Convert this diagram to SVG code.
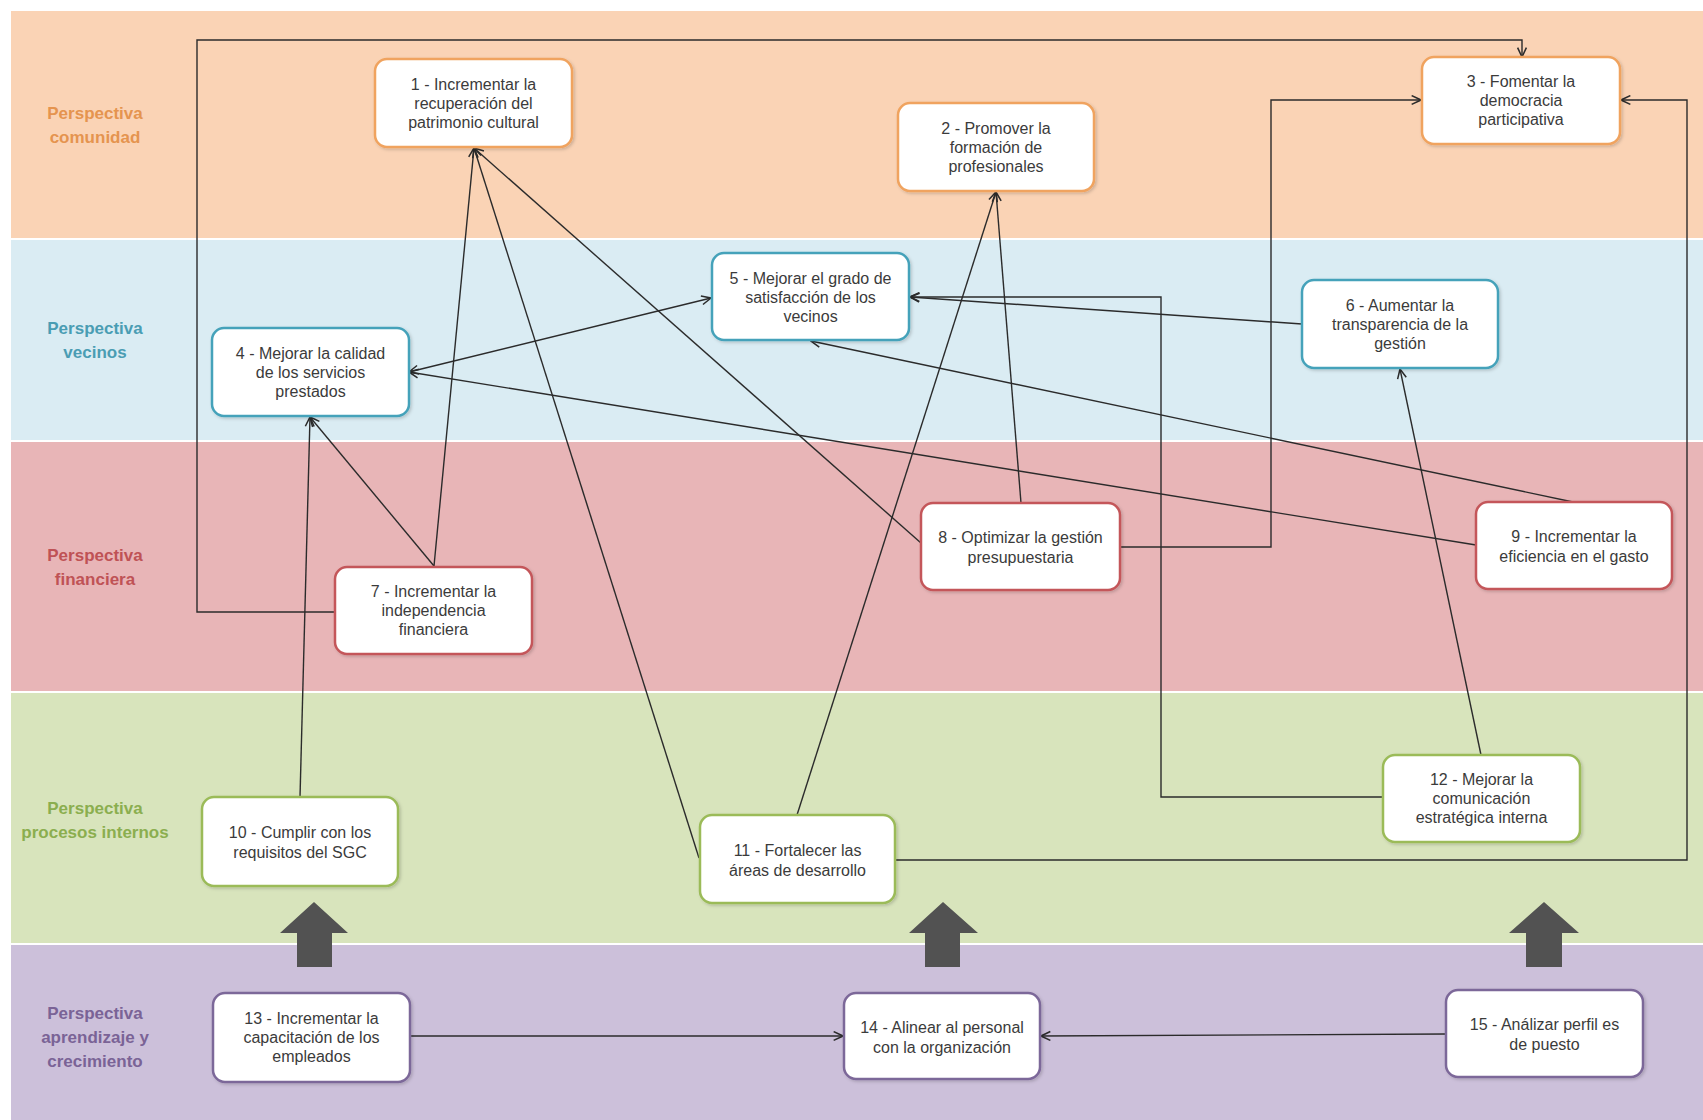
<svg xmlns="http://www.w3.org/2000/svg" width="1703" height="1120" viewBox="0 0 1703 1120">
<defs>
<marker id="ah" viewBox="0 0 10 10" refX="9.5" refY="5" markerWidth="11" markerHeight="11" markerUnits="userSpaceOnUse" orient="auto-start-reverse">
<path d="M1,1 L9.5,5 L1,9" fill="none" stroke="#2b2b2b" stroke-width="1.4"/>
</marker>
<filter id="sh" x="-10%" y="-10%" width="130%" height="130%">
<feDropShadow dx="1.5" dy="1.5" stdDeviation="1.5" flood-color="#000" flood-opacity="0.18"/>
</filter>
</defs>
<style>
.lbl{font-family:"Liberation Sans",Arial,sans-serif;font-weight:bold;font-size:17px;text-anchor:middle}
.node rect{fill:#fff;stroke-width:2.5;filter:url(#sh)}
.node text{font-family:"Liberation Sans",Arial,sans-serif;font-size:16px;fill:#3b3b3b;text-anchor:middle}
.o rect{stroke:#F0A35E}
.b rect{stroke:#45A2BA}
.r rect{stroke:#C4575A}
.g rect{stroke:#9BBB59}
.p rect{stroke:#7C6799}
.conn path{fill:none;stroke:#2b2b2b;stroke-width:1.4}
.big{fill:#525252}
</style>
<rect width="1703" height="1120" fill="#fff"/>
<g id="bands">
<rect x="11" y="11" width="1692" height="227" fill="#FAD3B5"/>
<rect x="11" y="240" width="1692" height="200" fill="#DAECF3"/>
<rect x="11" y="442" width="1692" height="249" fill="#E8B5B7"/>
<rect x="11" y="693" width="1692" height="250" fill="#D8E4BC"/>
<rect x="11" y="945" width="1692" height="175" fill="#CCC0DA"/>
</g>
<g id="labels">
<text class="lbl" fill="#E5944F" x="95" y="119">Perspectiva</text>
<text class="lbl" fill="#E5944F" x="95" y="143">comunidad</text>
<text class="lbl" fill="#4A9DB3" x="95" y="334">Perspectiva</text>
<text class="lbl" fill="#4A9DB3" x="95" y="358">vecinos</text>
<text class="lbl" fill="#BF5255" x="95" y="561">Perspectiva</text>
<text class="lbl" fill="#BF5255" x="95" y="585">financiera</text>
<text class="lbl" fill="#8BAE4F" x="95" y="814">Perspectiva</text>
<text class="lbl" fill="#8BAE4F" x="95" y="838">procesos internos</text>
<text class="lbl" fill="#7A6396" x="95" y="1019">Perspectiva</text>
<text class="lbl" fill="#7A6396" x="95" y="1043">aprendizaje y</text>
<text class="lbl" fill="#7A6396" x="95" y="1067">crecimiento</text>
</g>
<g id="block-arrows">
<polygon class="big" points="314,902 348,933 332,933 332,967 297,967 297,933 280,933"/>
<polygon class="big" points="943,902 978,933 960,933 960,967 925,967 925,933 909,933"/>
<polygon class="big" points="1544,902 1579,933 1562,933 1562,967 1526,967 1526,933 1509,933"/>
</g>
<g id="connectors" class="conn">
<path d="M335,612 H197 V40 H1522 V57" marker-end="url(#ah)"/>
<path d="M434,566 L474,148" marker-end="url(#ah)"/>
<path d="M434,566 L310,417" marker-end="url(#ah)"/>
<path d="M300,797 L310,417" marker-end="url(#ah)"/>
<path d="M699,858 L474,148" marker-end="url(#ah)"/>
<path d="M797,815 L996,192" marker-end="url(#ah)"/>
<path d="M1021,503 L996,192" marker-end="url(#ah)"/>
<path d="M921,543 L474,148" marker-end="url(#ah)"/>
<path d="M1120,547 H1271 V100 H1421" marker-end="url(#ah)"/>
<path d="M409,372 L711,298" marker-start="url(#ah)" marker-end="url(#ah)"/>
<path d="M1302,324 L910,297" marker-end="url(#ah)"/>
<path d="M1383,797 H1161 V297 H910" marker-end="url(#ah)"/>
<path d="M1481,755 L1400,369" marker-end="url(#ah)"/>
<path d="M1573,502 L811,341" marker-end="url(#ah)"/>
<path d="M1476,545 L409,372" marker-end="url(#ah)"/>
<path d="M895,860 H1687 V100 H1621" marker-end="url(#ah)"/>
<path d="M410,1036 L843,1036" marker-end="url(#ah)"/>
<path d="M1446,1034 L1041,1036" marker-end="url(#ah)"/>
</g>
<g id="n1" class="node o"><rect x="375" y="59" width="197" height="88" rx="12"/><text x="473.5" y="90">1 - Incrementar la</text><text x="473.5" y="109">recuperación del</text><text x="473.5" y="128">patrimonio cultural</text></g>
<g id="n2" class="node o"><rect x="898" y="103" width="196" height="88" rx="12"/><text x="996" y="134">2 - Promover la</text><text x="996" y="153">formación de</text><text x="996" y="172">profesionales</text></g>
<g id="n3" class="node o"><rect x="1422" y="57" width="198" height="87" rx="12"/><text x="1521" y="87">3 - Fomentar la</text><text x="1521" y="106">democracia</text><text x="1521" y="125">participativa</text></g>
<g id="n4" class="node b"><rect x="212" y="328" width="197" height="88" rx="12"/><text x="310.5" y="359">4 - Mejorar la calidad</text><text x="310.5" y="378">de los servicios</text><text x="310.5" y="397">prestados</text></g>
<g id="n5" class="node b"><rect x="712" y="253" width="197" height="87" rx="12"/><text x="810.5" y="284">5 - Mejorar el grado de</text><text x="810.5" y="303">satisfacción de los</text><text x="810.5" y="322">vecinos</text></g>
<g id="n6" class="node b"><rect x="1302" y="280" width="196" height="88" rx="12"/><text x="1400" y="311">6 - Aumentar la</text><text x="1400" y="330">transparencia de la</text><text x="1400" y="349">gestión</text></g>
<g id="n7" class="node r"><rect x="335" y="567" width="197" height="87" rx="12"/><text x="433.5" y="597">7 - Incrementar la</text><text x="433.5" y="616">independencia</text><text x="433.5" y="635">financiera</text></g>
<g id="n8" class="node r"><rect x="921" y="503" width="199" height="87" rx="12"/><text x="1020.5" y="543">8 - Optimizar la gestión</text><text x="1020.5" y="563">presupuestaria</text></g>
<g id="n9" class="node r"><rect x="1476" y="502" width="196" height="87" rx="12"/><text x="1574" y="542">9 - Incrementar la</text><text x="1574" y="562">eficiencia en el gasto</text></g>
<g id="n10" class="node g"><rect x="202" y="797" width="196" height="89" rx="12"/><text x="300" y="838">10 - Cumplir con los</text><text x="300" y="858">requisitos del SGC</text></g>
<g id="n11" class="node g"><rect x="700" y="815" width="195" height="88" rx="12"/><text x="797.5" y="856">11 - Fortalecer las</text><text x="797.5" y="876">áreas de desarrollo</text></g>
<g id="n12" class="node g"><rect x="1383" y="755" width="197" height="87" rx="12"/><text x="1481.5" y="785">12 - Mejorar la</text><text x="1481.5" y="804">comunicación</text><text x="1481.5" y="823">estratégica interna</text></g>
<g id="n13" class="node p"><rect x="213" y="993" width="197" height="89" rx="12"/><text x="311.5" y="1024">13 - Incrementar la</text><text x="311.5" y="1043">capacitación de los</text><text x="311.5" y="1062">empleados</text></g>
<g id="n14" class="node p"><rect x="844" y="993" width="196" height="86" rx="12"/><text x="942" y="1033">14 - Alinear al personal</text><text x="942" y="1053">con la organización</text></g>
<g id="n15" class="node p"><rect x="1446" y="990" width="197" height="87" rx="12"/><text x="1544.5" y="1030">15 - Análizar perfil es</text><text x="1544.5" y="1050">de puesto</text></g>
</svg>
